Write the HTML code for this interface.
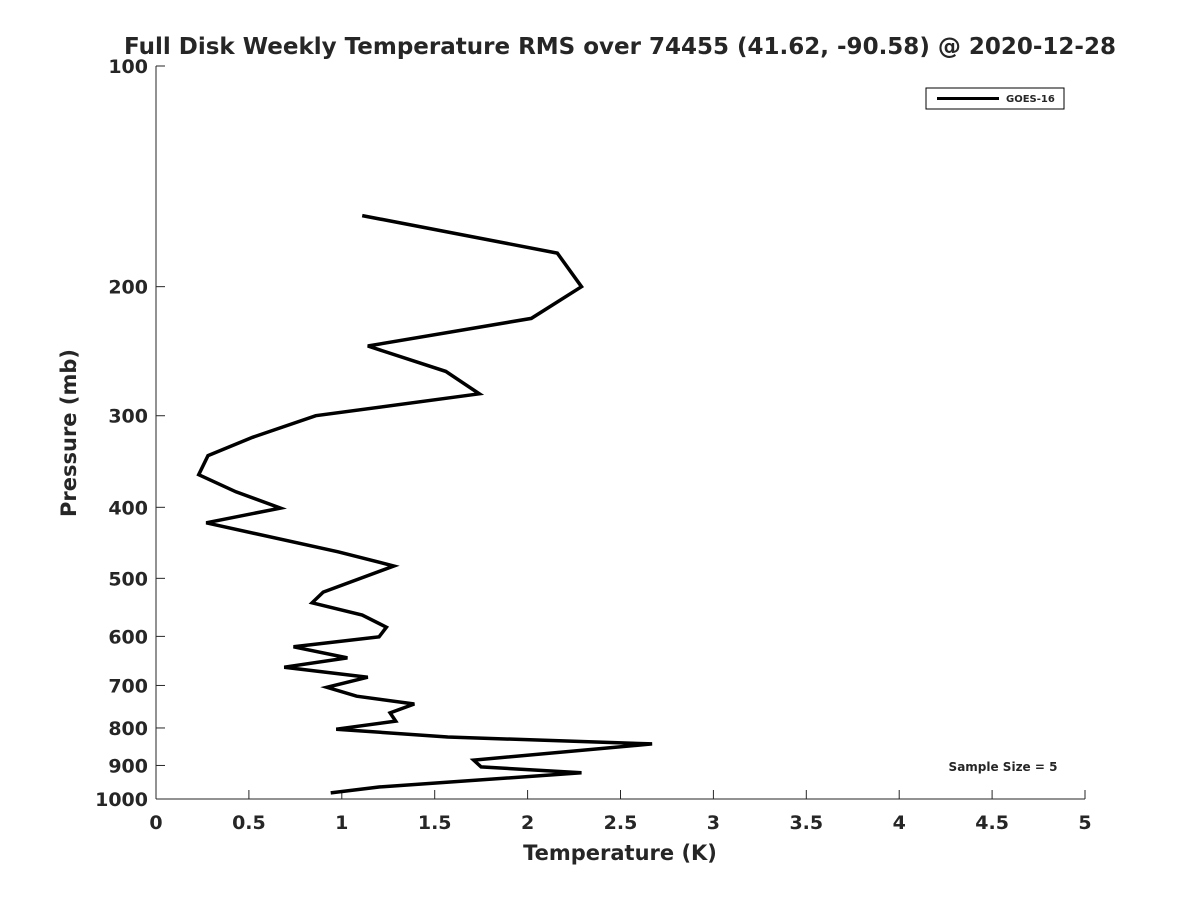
<!DOCTYPE html>
<html><head><meta charset="utf-8"><style>
body{margin:0;background:#fff;font-family:"Liberation Sans","DejaVu Sans",sans-serif}
svg text{font-family:"DejaVu Sans","Liberation Sans",sans-serif;font-weight:bold;fill:#262626}
</style></head><body>
<svg id="chart" width="1200" height="900">
<text x="620" y="54" font-size="23" text-anchor="middle" fill="#000">Full Disk Weekly Temperature RMS over 74455 (41.62, -90.58) @ 2020-12-28</text>
<g id="axes"></g>
<path id="line" fill="none" stroke="#000" stroke-width="3.5" stroke-linejoin="miter"/>
<g>
<rect x="926" y="88" width="138" height="21" fill="#fff" stroke="#000" stroke-width="1"/>
<line x1="937" y1="98.5" x2="999" y2="98.5" stroke="#000" stroke-width="3"/>
<text x="1006" y="102" font-size="10" fill="#000">GOES-16</text>
</g>
<text x="1003" y="771" font-size="12" text-anchor="middle" fill="#000">Sample Size = 5</text>
<text x="620" y="860" font-size="21" text-anchor="middle">Temperature (K)</text>
<text transform="translate(76,433) rotate(-90)" font-size="21" text-anchor="middle">Pressure (mb)</text>
</svg>
<script>
const pressures=[160,180,200,221,241,261,280,300,321,340,361,381,401,420,460,481,522,540,561,583,601,620,642,661,682,704,724,742,763,783,803,823,841,885,904,921,963,981];
const temps=[1.11,2.16,2.29,2.02,1.14,1.56,1.74,0.86,0.52,0.28,0.23,0.43,0.67,0.27,0.98,1.28,0.9,0.84,1.11,1.24,1.2,0.74,1.03,0.69,1.14,0.92,1.08,1.39,1.26,1.29,0.97,1.57,2.67,1.71,1.75,2.29,1.2,0.94];
const xTicks=[0,0.5,1,1.5,2,2.5,3,3.5,4,4.5,5];
const yTicks=[100,200,300,400,500,600,700,800,900,1000];
const X0=156,X1=1085,Y0=66,Y1=799;
const xs=v=>X0+(v/5)*(X1-X0);
const ys=p=>Y0+Math.log10(p/100)*(Y1-Y0);
const NS="http://www.w3.org/2000/svg";
const ax=document.getElementById('axes');
function mk(t,a){const e=document.createElementNS(NS,t);for(const k in a)e.setAttribute(k,a[k]);ax.appendChild(e);return e;}
let e=mk('line',{x1:X0,y1:Y1,x2:X1,y2:Y1,stroke:'#262626','stroke-width':1});


e=mk('line',{x1:X0,y1:Y0,x2:X0,y2:Y1,stroke:'#262626','stroke-width':1});


xTicks.forEach(v=>{const x=xs(v);
mk('line',{x1:x,y1:Y1,x2:x,y2:Y1-9,stroke:'#262626'});
const t=mk('text',{x:x,y:Y1+30,'font-size':19,'text-anchor':'middle'});t.textContent=v;

});
yTicks.forEach(p=>{const y=ys(p);
mk('line',{x1:X0,y1:y,x2:X0+9,y2:y,stroke:'#262626'});
const t=mk('text',{x:X0-8,y:y+7,'font-size':19,'text-anchor':'end'});t.textContent=p;

});
document.getElementById('line').setAttribute('d',pressures.map((p,i)=>(i?'L':'M')+xs(temps[i]).toFixed(1)+','+ys(p).toFixed(1)).join(''));
</script>
</body></html>
